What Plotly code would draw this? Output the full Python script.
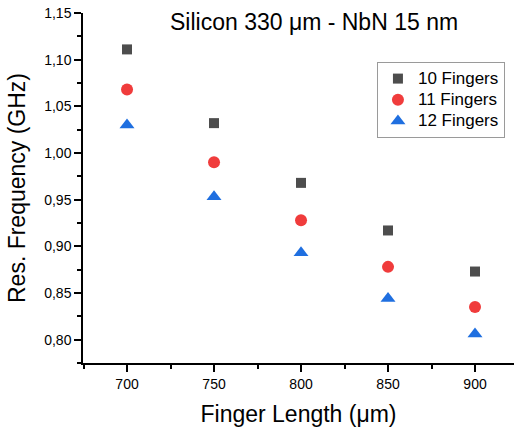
import plotly.graph_objects as go

# Finger length (µm) and resonance frequency (GHz) per finger count
finger_length = [700, 750, 800, 850, 900]
freq_10 = [1.111, 1.032, 0.968, 0.917, 0.873]
freq_11 = [1.068, 0.990, 0.928, 0.878, 0.835]
freq_12 = [1.030, 0.953, 0.893, 0.844, 0.806]
series_names = ["10 Fingers", "11 Fingers", "12 Fingers"]

FONT = "Liberation Sans, Arial, sans-serif"

fig = go.Figure()
styles = [
    ("square", "#4d4d4d", 10),
    ("circle", "#f03c3c", 12),
    ("triangle-up", "#1f6fe0", 13),
]
for name, ys, (sym, col, sz) in zip(series_names, [freq_10, freq_11, freq_12], styles):
    fig.add_trace(go.Scatter(
        x=finger_length, y=ys, mode="markers",
        # legend rows stay compact (row height follows legend font) while text is larger
        name=f'<span style="font-size:17px">{name}</span>',
        marker=dict(symbol=sym, color=col, size=sz, line=dict(width=0)),
    ))

axis_common = dict(
    showline=True, linecolor="black", linewidth=1.5,
    ticks="outside", ticklen=7, tickwidth=1.5, tickcolor="black",
    showgrid=False, zeroline=False, mirror=False,
    tickfont=dict(family=FONT, size=14, color="black"),
)

fig.update_layout(
    width=514, height=427,
    margin=dict(l=83, r=0, t=13, b=64),
    plot_bgcolor="white", paper_bgcolor="white",
    separators=",.",
    showlegend=True,
    legend=dict(
        x=0.682, y=0.86, xanchor="left", yanchor="top",
        bordercolor="#9a9a9a", borderwidth=1, bgcolor="white",
        font=dict(family=FONT, size=14, color="black"),
        tracegroupgap=0,
    ),
    annotations=[dict(
        text="Silicon 330 μm - NbN 15 nm", xref="paper", yref="paper",
        x=0.536, y=1.0, yanchor="middle", xanchor="center", yshift=-9,
        showarrow=False, font=dict(family=FONT, size=23, color="black"),
    )],
    xaxis=dict(
        axis_common,
        range=[674.7, 922.4], tickvals=[700, 750, 800, 850, 900],
        minor=dict(ticks="outside", ticklen=4, tickwidth=1.5, tickcolor="black",
                   tickvals=[675, 725, 775, 825, 875]),
        title=dict(text="Finger Length (μm)", font=dict(family=FONT, size=23, color="black"),
                   standoff=16),
    ),
    yaxis=dict(
        axis_common,
        range=[0.775, 1.15], dtick=0.05, tick0=0.8, tickformat=".2f",
        minor=dict(ticks="outside", ticklen=4, tickwidth=1.5, tickcolor="black",
                   tickvals=[0.775, 0.825, 0.875, 0.925, 0.975, 1.025, 1.075, 1.125]),
        title=dict(text="Res. Frequency (GHz)", font=dict(family=FONT, size=23, color="black"),
                   standoff=12),
    ),
)

fig.write_html("out.html")
